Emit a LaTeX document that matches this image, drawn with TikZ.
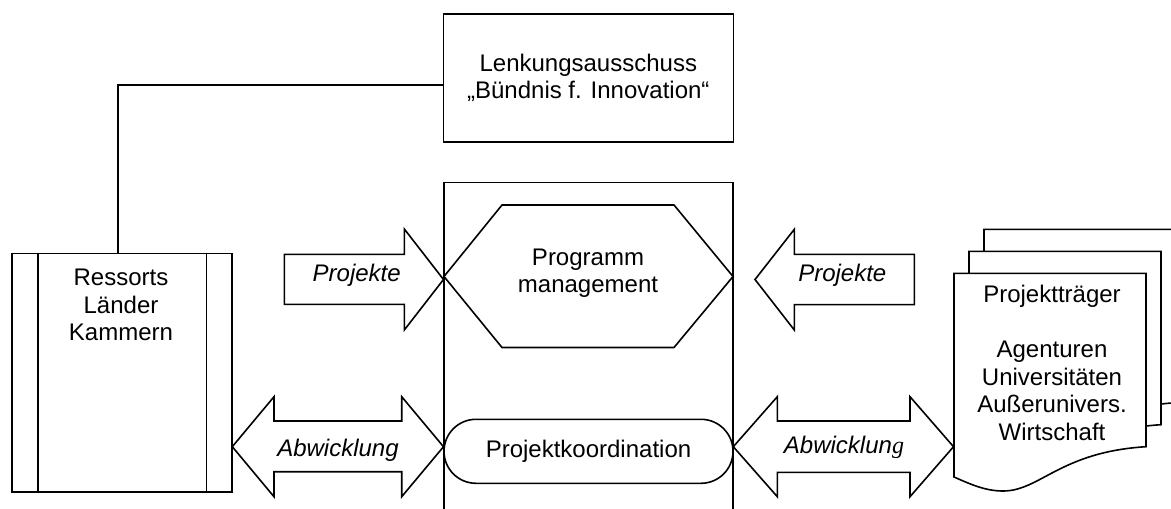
\documentclass[tikz,border=0pt]{standalone}
\usepackage{fontspec}
\setmainfont{Liberation Sans}
\newfontfamily\serifg{Liberation Serif}
\usetikzlibrary{shapes.misc}
\tikzset{
  lbl/.style={font=\fontsize{12}{13.75}\selectfont, align=center, inner sep=0pt},
  arrowlbl/.style={lbl, font=\fontsize{12}{13.75}\selectfont\itshape},
}

\begin{document}
\begin{tikzpicture}[x=0.5pt,y=-0.5pt,line width=0.8pt]
     \useasboundingbox (0,0) rectangle (1171,508);
     \fill[white] (0,0) rectangle (1171,508);
     \clip (0,0) rectangle (1171,508);
     % Lenkungsausschuss
     \node[draw,lbl,minimum width=145pt,minimum height=63.85pt] (lenkung) at (588.3,77.9)
          {Lenkungsausschuss\\„Bündnis f. Innovation“};
     % Ressorts
     \node[draw,inner sep=0pt,minimum width=110pt,minimum height=119.2pt,anchor=north west] (ressorts) at (11,252.7) {};
     \draw ([xshift=13.35pt]ressorts.north west) -- ([xshift=13.35pt]ressorts.south west);
     \draw ([xshift=-13.15pt]ressorts.north east) -- ([xshift=-13.15pt]ressorts.south east);
     \node[lbl,anchor=north] (ressortstxt) at (121,268.5) {Ressorts\\Länder\\Kammern};
     \draw ([xshift=-2pt]ressorts.north) |- ([yshift=-3.55pt]lenkung.west);
     % middle column
     \node[draw,inner sep=0pt,minimum width=144.5pt,minimum height=180pt,anchor=north] (frame) at (588.5,181.5) {};
     \draw (444,276.5) -- (502,205) -- (674,205) -- (733,276.5) -- (674,347.5) -- (502,347.5) -- cycle;
     \node[lbl] (progmgmt) at (588,273) {Programm\\management};
     \node[draw,lbl,rounded rectangle,minimum width=144.5pt,minimum height=32pt] (koord) at (588.5,451.3)
          {Projektkoordination};
     % left arrows
     \draw (284.3,254.4) -- (404.3,254.4) -- (404.3,229) -- (443.5,279.5) -- (404.3,330) -- (404.3,304.4) -- (284.3,304.4) -- cycle;
     \node[arrowlbl] (projl) at (356.7,275.5) {Projekte};
     \draw (232.3,446.7) -- (274,396.7) -- (274,421) -- (401.7,421) -- (401.7,396.7) -- (443.5,446.7)
          -- (401.7,496.7) -- (401.7,471.7) -- (274,471.7) -- (274,496.7) -- cycle;
     \node[arrowlbl] (abwl) at (338,450.5) {Abwicklung};
     % right arrows
     \draw (914.3,254.3) -- (794.3,254.3) -- (794.3,229.3) -- (755,279.5) -- (794.3,330) -- (794.3,304.6) -- (914.3,304.6) -- cycle;
     \node[arrowlbl] (projr) at (842.3,275) {Projekte};
     \draw (733.3,446.7) -- (777.3,396.7) -- (777.3,421) -- (910,421) -- (910,396.7) -- (953.5,446.7)
          -- (910,496.7) -- (910,472.3) -- (777.3,472.3) -- (777.3,496.7) -- cycle;
     \node[arrowlbl] (abwr) at (844,447) {Abwicklun{\serifg g}};
     % Projekttraeger (stack of documents)
     \draw[fill=white,shift={(30,-44)}] (954,273.3) -- (1146,273.3) -- (1146,446.7)
          .. controls (1060,452) and (1040,491) .. (1003,491) .. controls (985,491) and (970,484) .. (954,477) -- cycle;
     \draw[fill=white,shift={(15,-22)}] (954,273.3) -- (1146,273.3) -- (1146,446.7)
          .. controls (1060,452) and (1040,491) .. (1003,491) .. controls (985,491) and (970,484) .. (954,477) -- cycle;
     \draw[fill=white] (954,273.3) -- (1146,273.3) -- (1146,446.7)
          .. controls (1060,452) and (1040,491) .. (1003,491) .. controls (985,491) and (970,484) .. (954,477) -- cycle;
     \node[lbl,anchor=north] (traeger) at (1052,284.5)
          {Projektträger\\[13.75pt]Agenturen\\Universitäten\\Außerunivers.\\Wirtschaft};
\end{tikzpicture}
\end{document}
